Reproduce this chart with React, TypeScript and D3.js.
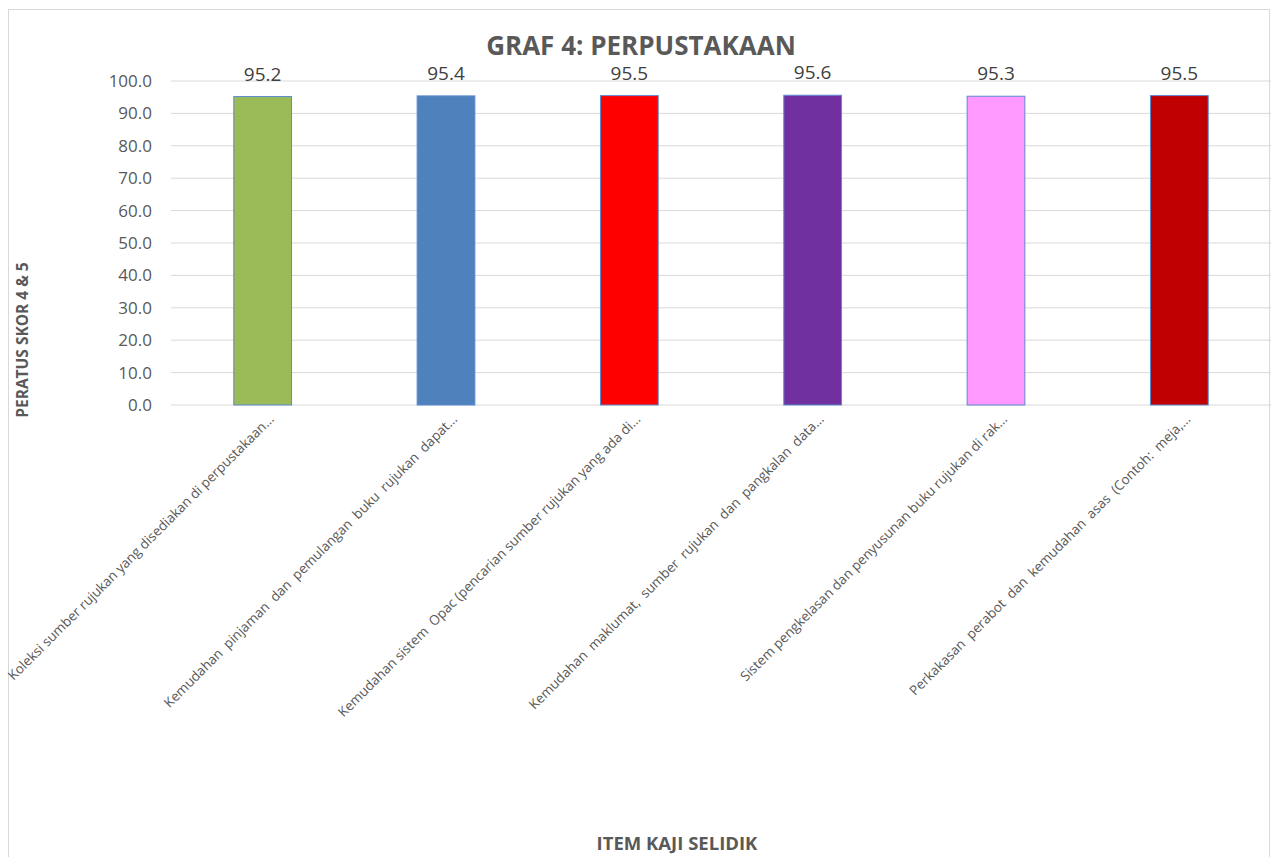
import React from "react";
import * as d3 from "d3";

const categories = [
  "Koleksi sumber rujukan yang disediakan di perpustakaan...",
  "Kemudahan  pinjaman  dan  pemulangan  buku  rujukan  dapat...",
  "Kemudahan sistem  Opac (pencarian sumber rujukan yang ada di...",
  "Kemudahan  maklumat,  sumber  rujukan  dan  pangkalan  data...",
  "Sistem pengkelasan dan penyusunan buku rujukan di rak...",
  "Perkakasan  perabot  dan  kemudahan  asas  (Contoh:  meja,...",
];
const values = [95.2, 95.4, 95.5, 95.6, 95.3, 95.5];
const colors = ["#9BBB59", "#4F81BD", "#FF0000", "#7030A0", "#FF99FF", "#C00000"];
const yTicks = [0, 10, 20, 30, 40, 50, 60, 70, 80, 90, 100];

const W = 1271;
const H = 857;
const left = 171;
const right = 1271;
const top = 81;
const bottom = 405;
const FONT = "'Open Sans', 'DejaVu Sans', sans-serif";

export default function App() {
  const x = d3.scaleBand<string>().domain(categories).range([left, right]).paddingInner(0.685).paddingOuter(0.3425);
  const y = d3.scaleLinear().domain([0, 100]).range([bottom, top]);
  const fmt = d3.format(".1f");
  return (
    <svg width={W} height={H} style={{ position: "absolute", left: 0, top: 0, background: "#fff" }}>
      <rect x={8.5} y={9.5} width={1261} height={860} fill="#fff" stroke="#d9d9d9" strokeWidth={1} />
      {yTicks.map((t) => (
        <g key={t}>
          <line x1={left} x2={right} y1={y(t)} y2={y(t)} stroke="#d9d9d9" strokeWidth={1} />
          <text x={152} y={y(t) + 6} textAnchor="end" fontFamily={FONT} fontSize={17} fill="#595959">
            {fmt(t)}
          </text>
        </g>
      ))}
      {categories.map((c, i) => (
        <g key={c}>
          <rect
            x={x(c)!}
            y={y(values[i])}
            width={x.bandwidth()}
            height={bottom - y(values[i])}
            fill={colors[i]}
            stroke="#5B8BD0"
            strokeWidth={1}
          />
          <text
            x={x(c)! + x.bandwidth() / 2}
            y={y(values[i]) - 16}
            textAnchor="middle"
            fontFamily={FONT}
            fontSize={19}
            fill="#404040"
          >
            {fmt(values[i])}
          </text>
          <text
            transform={`translate(${x(c)! + x.bandwidth() / 2 + 12},${bottom + 15}) rotate(-45)`}
            textAnchor="end"
            fontFamily={FONT}
            fontSize={13.5}
            fill="#595959"
            style={{ whiteSpace: "pre" }}
          >
            {c}
          </text>
        </g>
      ))}
      <text x={641} y={55} textAnchor="middle" fontFamily={FONT} fontWeight="bold" fontSize={26} fill="#595959">
        GRAF 4: PERPUSTAKAAN
      </text>
      <text
        transform={`translate(28,340) rotate(-90)`}
        textAnchor="middle"
        fontFamily={FONT}
        fontWeight="bold"
        fontSize={15.5}
        fill="#595959"
      >
        PERATUS SKOR 4 &amp; 5
      </text>
      <text x={677} y={850} textAnchor="middle" fontFamily={FONT} fontWeight="bold" fontSize={18.5} fill="#595959">
        ITEM KAJI SELIDIK
      </text>
    </svg>
  );
}
